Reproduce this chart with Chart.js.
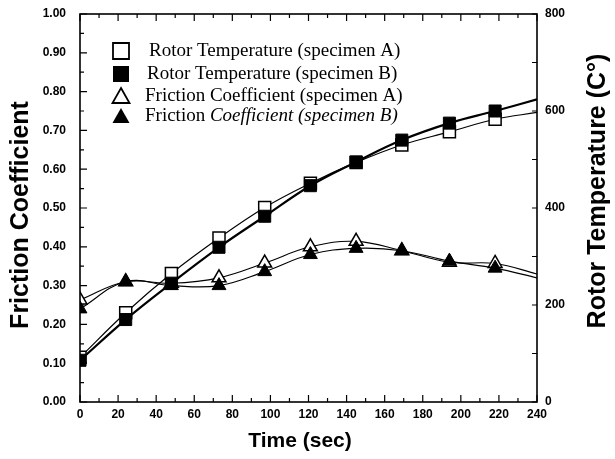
<!DOCTYPE html>
<html><head><meta charset="utf-8">
<script src="https://cdn.jsdelivr.net/npm/chart.js@4.4.1/dist/chart.umd.min.js"></script>
<style>html,body{margin:0;padding:0;background:#fff}#wrap{width:615px;height:459px}</style>
</head><body><div id="wrap"><canvas id="c" width="615" height="459"></canvas></div>
<script>
// ---- data ----
const timeSec = [0, 24, 48, 73, 97, 121, 145, 169, 194, 218];
const rotorTempA = [92, 184, 265, 338, 401, 451, 494, 530, 557, 583];
const rotorTempB = [86, 170, 245, 319, 383, 446, 495, 540, 575, 600];
const frictionA = [0.263, 0.31, 0.306, 0.32, 0.358, 0.40, 0.414, 0.39, 0.36, 0.357];
const frictionB = [0.24, 0.31, 0.30, 0.30, 0.336, 0.38, 0.396, 0.39, 0.363, 0.345];
// fitted curves continue to the end of the axis; values read at t = 240
const curveEndTime = 240;
const rotorEndA = 597;
const rotorEndB = 624;
const frictionEndA = 0.33;
const frictionEndB = 0.32;
const legendLabels = [
  'Rotor Temperature (specimen A)',
  'Rotor Temperature (specimen B)',
  'Friction Coefficient (specimen A)',
  'Friction Coefficient (specimen B)'
];
const xTitle = 'Time (sec)';
const yTitle = 'Friction Coefficient';
const y2Title = 'Rotor Temperature (C\u00B0)';

function series(vals, endVal) {
  const pts = timeSec.map((t, i) => ({x: t, y: vals[i]}));
  pts.push({x: curveEndTime, y: endVal});
  return pts;
}
function radii(r) { return timeSec.map(() => r).concat([0]); }

const SANS = '"Liberation Sans", Arial, sans-serif';
const SERIF = '"Liberation Serif", "Times New Roman", serif';

const frame = {
  id: 'frame',
  afterDraw(chart) {
    const ctx = chart.ctx, a = chart.chartArea;
    const x = chart.scales.x, y = chart.scales.y, y2 = chart.scales.y2;
    ctx.save();
    ctx.strokeStyle = '#000';
    ctx.lineWidth = 1.6;
    ctx.strokeRect(a.left, a.top, a.right - a.left, a.bottom - a.top);
    ctx.lineWidth = 1.2;
    ctx.beginPath();
    for (let t = 0; t <= 240; t += 10) {
      const px = x.getPixelForValue(t);
      const L = (t % 20 === 0) ? 7 : 4;
      ctx.moveTo(px, a.bottom); ctx.lineTo(px, a.bottom - L);
      ctx.moveTo(px, a.top); ctx.lineTo(px, a.top + L);
    }
    for (let k = 0; k <= 20; k++) {
      const py = y.getPixelForValue(k * 0.05);
      const L = (k % 2 === 0) ? 7 : 4;
      ctx.moveTo(a.left, py); ctx.lineTo(a.left + L, py);
    }
    for (let v = 0; v <= 800; v += 100) {
      const py = y2.getPixelForValue(v);
      ctx.moveTo(a.right, py); ctx.lineTo(a.right - 5, py);
    }
    ctx.stroke();

    // axis titles
    ctx.fillStyle = '#000';
    ctx.textAlign = 'center';
    ctx.textBaseline = 'middle';
    ctx.font = 'bold 21px ' + SANS;
    ctx.fillText(xTitle, 300, 441);
    ctx.font = 'bold 25px ' + SANS;
    ctx.save();
    ctx.translate(21, 215);
    ctx.rotate(-Math.PI / 2);
    ctx.fillText(yTitle, 0, 0);
    ctx.restore();
    ctx.save();
    ctx.translate(598, 191);
    ctx.rotate(-Math.PI / 2);
    ctx.fillText(y2Title, 0, 0);
    ctx.restore();

    // legend
    const rows = [51, 74, 96, 116];
    const mx = 121;
    ctx.lineWidth = 1.8;
    ctx.strokeStyle = '#000';
    rows.forEach((ry, i) => {
      ctx.beginPath();
      if (i < 2) {
        ctx.rect(mx - 8, ry - 8, 16, 16);
      } else {
        ctx.moveTo(mx, ry - 8); ctx.lineTo(mx + 8.5, ry + 7); ctx.lineTo(mx - 8.5, ry + 7); ctx.closePath();
      }
      if (i % 2 === 1) { ctx.fillStyle = '#000'; ctx.fill(); }
      else { ctx.fillStyle = '#fff'; ctx.fill(); ctx.stroke(); }
    });
    ctx.fillStyle = '#000';
    ctx.textAlign = 'left';
    ctx.textBaseline = 'middle';
    const tx = [149, 147, 145, 145];
    rows.forEach((ry, i) => {
      const label = legendLabels[i];
      if (i === 3) {
        const cut = label.indexOf(' ') + 1;
        ctx.font = '19px ' + SERIF;
        ctx.fillText(label.slice(0, cut), tx[i], ry);
        const w = ctx.measureText(label.slice(0, cut)).width;
        ctx.font = 'italic 19px ' + SERIF;
        ctx.fillText(label.slice(cut), tx[i] + w, ry);
      } else {
        ctx.font = '19px ' + SERIF;
        ctx.fillText(label, tx[i], ry);
      }
    });
    ctx.restore();
  }
};

const tickFont = { family: SANS, weight: 'bold', size: 12 };

new Chart(document.getElementById('c'), {
  type: 'line',
  data: {
    datasets: [
      { label: legendLabels[0], data: series(rotorTempA, rotorEndA), yAxisID: 'y2', order: 1,
        borderColor: '#000', borderWidth: 1.2, pointStyle: 'rect', pointRadius: radii(8.5),
        pointBackgroundColor: '#fff', pointBorderColor: '#000', pointBorderWidth: 1.5, tension: 0.4 },
      { label: legendLabels[1], data: series(rotorTempB, rotorEndB), yAxisID: 'y2', order: 0,
        borderColor: '#000', borderWidth: 2.2, pointStyle: 'rect', pointRadius: radii(8.5),
        pointBackgroundColor: '#000', pointBorderColor: '#000', pointBorderWidth: 1, tension: 0.4 },
      { label: legendLabels[2], data: series(frictionA, frictionEndA), yAxisID: 'y', order: 1,
        borderColor: '#000', borderWidth: 1.1, pointStyle: 'triangle', pointRadius: radii(8),
        pointBackgroundColor: '#fff', pointBorderColor: '#000', pointBorderWidth: 1.5, tension: 0.4 },
      { label: legendLabels[3], data: series(frictionB, frictionEndB), yAxisID: 'y', order: 0,
        borderColor: '#000', borderWidth: 1.1, pointStyle: 'triangle', pointRadius: radii(8),
        pointBackgroundColor: '#000', pointBorderColor: '#000', pointBorderWidth: 1, tension: 0.4 }
    ]
  },
  options: {
    responsive: false,
    animation: false,
    layout: { padding: { top: 14, left: 0, right: 0, bottom: 0 } },
    plugins: { legend: { display: false }, tooltip: { enabled: false } },
    scales: {
      x: {
        type: 'linear', min: 0, max: 240,
        grid: { display: false, drawTicks: false }, border: { display: false },
        ticks: { stepSize: 20, color: '#000', padding: 5, maxRotation: 0, font: tickFont },
        afterFit(s) { s.height = 57; s.paddingLeft = 0; s.paddingRight = 0; }
      },
      y: {
        position: 'left', min: 0, max: 1,
        grid: { display: false, drawTicks: false }, border: { display: false },
        ticks: { stepSize: 0.1, color: '#000', padding: 14, font: tickFont,
                 callback: v => Number(v).toFixed(2) },
        afterFit(s) { s.width = 80; s.paddingTop = 0; s.paddingBottom = 0; }
      },
      y2: {
        position: 'right', min: 0, max: 800,
        grid: { display: false, drawTicks: false }, border: { display: false },
        ticks: { stepSize: 200, color: '#000', padding: 8, font: tickFont },
        afterFit(s) { s.width = 78; s.paddingTop = 0; s.paddingBottom = 0; }
      }
    }
  },
  plugins: [frame]
});
</script>
</body></html>
